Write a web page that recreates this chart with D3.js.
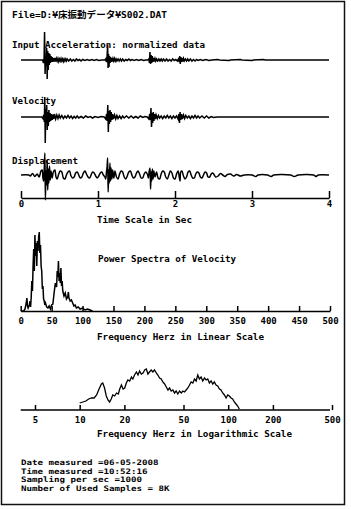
<!DOCTYPE html>
<html><head><meta charset="utf-8">
<script src="https://cdn.jsdelivr.net/npm/d3@7"></script>
<style>
html,body{margin:0;padding:0;background:#fff;}
svg{display:block;}
text{font-family:"DejaVu Sans Mono","Noto Sans CJK JP",monospace;fill:#000;font-weight:bold;}
</style></head>
<body>
<script>
// ---------- DATA ----------
const titleText = "File=D:¥床振動データ¥S002.DAT";
const waveLabels = ["Input Acceleration: normalized data", "Velocity", "Displacement"];
const timeTicks = [0, 1, 2, 3, 4];
const linFreqTicks = [0, 50, 100, 150, 200, 250, 300, 350, 400, 450, 500];
const logFreqTicks = [5, 10, 20, 50, 100, 200, 500];
const infoLines = [
  "Date measured =06-05-2008",
  "Time measured =10:52:16",
  "Sampling per sec =1000",
  "Number of Used Samples = 8K"
];

// [time (s), normalized amplitude]
const acceleration = [[0,0],[0.28,0],[0.292,-3],[0.300,2],[0.306,28],[0.313,-14],[0.319,4],[0.326,-6],[0.333,12],[0.340,-19],[0.347,9],[0.354,-10],[0.361,7],[0.368,-5],[0.375,6],[0.382,-3],[0.39,4],[0.398,-2],[0.406,3],[0.414,-2],[0.422,2],[0.43,-1.5],[0.44,2],[0.45,-1.5],[0.46,1.5],[0.47,-1],[0.48,1.5],[0.49,-1.5],[0.5,1],[0.51,-1],[0.52,1.5],[0.53,-1],[0.54,1],[0.55,-1.5],[0.56,1],[0.57,-1],[0.58,1],[0.59,-1],[0.60,1],[0.62,-1],[0.64,1],[0.66,-1],[0.68,0.5],[0.70,-1],[0.72,1],[0.74,-0.5],[0.76,0.5],[0.78,-1],[0.80,0.5],[0.83,-0.5],[0.86,0.5],[0.89,-0.5],[0.92,0.5],[0.95,-0.5],[0.98,0.5],[1.01,-0.5],[1.05,0],[1.09,0],[1.10,1],[1.11,-2],[1.118,4],[1.125,15],[1.131,-8],[1.137,6],[1.143,-7],[1.15,4],[1.157,-3],[1.164,3],[1.171,-2],[1.178,2],[1.186,-1.5],[1.195,1.5],[1.205,-1],[1.215,1.5],[1.225,-1],[1.235,1],[1.245,-1],[1.26,1],[1.275,-1],[1.29,1],[1.305,-1],[1.32,1],[1.34,-1],[1.36,0.5],[1.38,-0.5],[1.40,1],[1.42,-0.5],[1.44,0.5],[1.47,-0.5],[1.50,0.5],[1.53,-0.5],[1.56,0.5],[1.59,-0.5],[1.62,0],[1.65,0],[1.66,1],[1.668,-3],[1.675,8],[1.682,-4],[1.69,5],[1.697,-3],[1.705,4],[1.712,-2],[1.72,2],[1.73,-1.5],[1.74,1.5],[1.75,-1],[1.76,1],[1.775,-1],[1.79,1],[1.805,-1],[1.82,1],[1.835,-1],[1.85,1],[1.87,-1],[1.89,1],[1.91,-1],[1.93,0.5],[1.95,-1],[1.97,1],[1.99,-0.5],[2.01,0.5],[2.03,-1],[2.045,1],[2.055,-2],[2.062,4],[2.069,-4],[2.076,3],[2.084,-2],[2.092,2],[2.10,-1.5],[2.11,1.5],[2.12,-1],[2.135,1],[2.15,-1],[2.165,1],[2.18,-1],[2.20,1],[2.22,-1],[2.24,0.5],[2.26,-1],[2.28,0.5],[2.30,-0.5],[2.33,0.5],[2.36,-0.5],[2.40,0.5],[2.44,-0.5],[2.48,0],[2.55,0.5],[2.58,0],[2.7,-0.5],[2.72,0],[2.85,0.5],[2.87,0],[3.0,-0.5],[3.02,0],[3.15,0.5],[3.17,0],[4,0]];

const velocity = [[0,0],[0.27,0],[0.285,-1.5],[0.295,2],[0.303,-5],[0.309,20],[0.315,-26],[0.321,8],[0.327,-6],[0.334,12],[0.341,-13],[0.348,5],[0.355,-9],[0.362,7],[0.37,-5],[0.378,4],[0.386,-4],[0.395,3],[0.405,-3],[0.415,2.5],[0.425,-2],[0.435,3],[0.45,-2],[0.465,2],[0.48,-1.5],[0.495,2],[0.51,-1],[0.53,1.5],[0.55,-1.5],[0.57,1],[0.59,-1],[0.61,1.5],[0.63,-1],[0.65,1],[0.67,-1.5],[0.69,0.5],[0.71,-1],[0.73,1],[0.75,-1],[0.78,0.5],[0.81,-1],[0.84,1],[0.87,-0.5],[0.90,0.5],[0.93,-1],[0.96,0.5],[1.0,-0.5],[1.04,0.5],[1.08,0],[1.10,-2],[1.112,3],[1.12,-4],[1.127,12],[1.134,-15],[1.141,6],[1.148,-7],[1.156,7],[1.164,-5],[1.172,5],[1.18,-3],[1.19,3],[1.20,-2],[1.215,2],[1.23,-2],[1.245,1.5],[1.26,-1.5],[1.28,1],[1.30,-1.5],[1.32,1],[1.34,-1],[1.37,1],[1.40,-1],[1.43,1],[1.46,-1],[1.49,0.5],[1.52,-1],[1.55,1],[1.58,-0.5],[1.61,0.5],[1.64,0],[1.66,-2],[1.672,3],[1.68,-3],[1.688,9],[1.695,-10],[1.703,4],[1.71,-6],[1.718,5],[1.726,-4],[1.735,3],[1.745,-2],[1.755,2],[1.77,-1.5],[1.785,1.5],[1.80,-1],[1.82,1],[1.84,-1.5],[1.86,1],[1.88,-1],[1.90,1.5],[1.92,-1],[1.94,1],[1.96,-1.5],[1.98,1],[2.0,-1],[2.02,1],[2.04,-2],[2.05,3],[2.058,-6],[2.066,5],[2.075,-3],[2.085,3],[2.095,-2],[2.11,2],[2.125,-1.5],[2.14,1.5],[2.16,-1],[2.18,1],[2.20,-1.5],[2.22,1],[2.24,-1],[2.26,1.5],[2.28,-1],[2.30,1],[2.32,-1],[2.35,1],[2.38,-1],[2.41,1],[2.44,-1],[2.47,0.5],[2.50,-0.5],[2.55,0],[4,0]];

const displacement = [[0,0],[0.1,0],[0.12,-1],[0.15,1.5],[0.18,-1.5],[0.21,1],[0.235,-2],[0.26,4],[0.275,5],[0.285,-3],[0.295,-6],[0.303,8],[0.31,22],[0.317,-25],[0.324,4],[0.332,-10],[0.34,15],[0.347,-15],[0.355,6],[0.362,-8],[0.37,9],[0.38,-5],[0.39,4],[0.405,-3],[0.42,3],[0.44,5],[0.455,-2],[0.47,-4],[0.49,1],[0.51,4],[0.53,3],[0.55,-3],[0.57,-4],[0.59,0],[0.61,3],[0.63,4],[0.65,-1],[0.67,-3],[0.69,-2],[0.71,2],[0.73,3],[0.75,0],[0.77,-3],[0.79,-2],[0.81,2],[0.83,4],[0.85,1],[0.87,-2],[0.89,-3],[0.91,0],[0.93,3],[0.95,2],[0.97,-1],[0.99,-3],[1.01,-1],[1.03,2],[1.05,3],[1.07,0],[1.09,-2],[1.10,-4],[1.11,3],[1.118,8],[1.125,17],[1.132,-17],[1.14,5],[1.147,-8],[1.155,12],[1.163,-6],[1.17,7],[1.18,-4],[1.19,5],[1.205,-3],[1.22,4],[1.24,-2],[1.26,-4],[1.28,1],[1.30,4],[1.32,3],[1.34,-2],[1.36,-4],[1.38,-1],[1.40,3],[1.42,4],[1.44,0],[1.46,-3],[1.48,-2],[1.50,2],[1.52,4],[1.54,1],[1.56,-3],[1.58,-3],[1.60,1],[1.62,3],[1.64,1],[1.655,-3],[1.665,4],[1.675,7],[1.683,-14],[1.69,3],[1.698,-6],[1.706,6],[1.715,-4],[1.725,4],[1.74,-2],[1.76,3],[1.78,-3],[1.80,-4],[1.82,1],[1.84,4],[1.86,3],[1.88,-2],[1.90,-4],[1.92,0],[1.94,4],[1.96,2],[1.98,-3],[2.0,-4],[2.02,1],[2.04,4],[2.055,-2],[2.065,-6],[2.075,3],[2.09,4],[2.11,-1],[2.13,-4],[2.15,-2],[2.17,3],[2.19,4],[2.21,0],[2.23,-3],[2.25,-3],[2.27,1],[2.29,3],[2.31,2],[2.33,-2],[2.35,-3],[2.37,0],[2.39,3],[2.41,2],[2.43,-2],[2.45,-2],[2.47,1],[2.49,2],[2.51,0],[2.53,-2],[2.56,-1],[2.59,1.5],[2.62,0],[2.65,-1.5],[2.68,0.5],[2.72,1],[2.76,-1],[2.80,0.5],[2.85,-1],[2.9,0],[3.0,0],[3.05,-1.5],[3.08,0],[3.2,0],[3.25,-1.5],[3.28,0],[3.5,0],[3.55,-1.5],[3.6,0],[3.8,0],[3.83,-1.5],[3.86,0],[4,0]];

// [frequency Hz, power]
const spectrumLinear = [[0,0],[5,0],[7,2],[9,8],[10,13],[11,5],[12,3],[14,6],[15,10],[16,4],[17,14],[18,30],[19,20],[20,45],[21,62],[22,40],[23,76],[24,55],[25,68],[26,45],[27,70],[28,60],[29,74],[30,79],[31,58],[32,66],[33,45],[34,40],[35,22],[36,25],[37,12],[38,10],[39,6],[40,8],[42,4],[44,3],[46,5],[48,2],[50,6],[52,7],[54,18],[56,28],[58,24],[59,40],[60,34],[61,50],[62,30],[63,38],[64,28],[65,43],[66,25],[67,30],[68,20],[70,15],[72,18],[74,12],[76,14],[77,19],[78,13],[80,10],[82,11],[84,8],[86,5],[88,6],[90,3],[93,4],[96,2],[100,3],[104,1],[108,2],[112,1],[116,0]];

const spectrumLog = [[10.0,7],[10.5,8],[11.0,9],[11.5,11],[12.0,12],[12.5,12],[13.0,15],[13.5,21],[14.0,26],[14.3,27],[14.7,22],[15.1,14],[15.5,10],[15.9,8],[16.3,11],[16.7,15],[17.2,14],[17.7,17],[18.2,16],[18.6,21],[19.1,25],[19.6,21],[20.1,22],[20.6,27],[21.1,30],[21.7,29],[22.3,33],[22.8,31],[23.4,35],[24.1,38],[24.7,35],[25.3,39],[26.0,36],[26.7,37],[27.4,40],[28.1,41],[28.8,36],[29.5,38],[30.3,40],[31.1,38],[31.9,40],[32.8,37],[33.6,35],[34.5,32],[35.4,31],[36.3,28],[37.3,26],[38.3,23],[39.3,20],[40.3,22],[41.3,19],[42.4,20],[43.5,17],[44.6,19],[45.8,16],[47.0,19],[48.3,17],[49.5,19],[50.8,18],[52.1,20],[53.5,22],[54.9,25],[56.3,28],[57.8,27],[59.3,31],[60.8,29],[62.4,35],[64.0,31],[65.7,33],[67.4,29],[69.2,32],[71.0,30],[72.8,31],[74.7,27],[76.7,29],[78.7,26],[80.7,28],[82.8,25],[85.0,24],[87.3,21],[89.5,20],[91.8,17],[94.3,15],[96.8,12],[99.3,15],[101.8,14],[104.5,12],[107.1,11],[110.0,8],[112.9,6],[115.8,4],[118.8,1]];

// ---------- DRAW ----------
const W = 351, H = 509;
const svg = d3.select("body").append("svg").attr("width", W).attr("height", H);
svg.append("rect").attr("width", W).attr("height", H).attr("fill", "#fff");
svg.append("rect").attr("x", 1.5).attr("y", 1.5).attr("width", 343).attr("height", 503)
  .attr("fill", "none").attr("stroke", "#111").attr("stroke-width", 1.5);

function label(txt, x, y, len, size) {
  const t = svg.append("text").attr("x", x).attr("y", y).attr("font-size", size || 9.5).text(txt);
  if (len) t.attr("textLength", len).attr("lengthAdjust", "spacingAndGlyphs");
  return t;
}

label(titleText, 12, 18, 155);

const x = d3.scaleLinear().domain([0, 4]).range([21, 329]);
const waves = [
  {data: acceleration, base: 60, label: waveLabels[0], ly: 48, len: 193, curve: d3.curveLinear},
  {data: velocity, base: 117, label: waveLabels[1], ly: 104, len: 44, curve: d3.curveLinear},
  {data: displacement, base: 175, label: waveLabels[2], ly: 164, len: 66, curve: d3.curveCatmullRom.alpha(0.5)}
];
waves.forEach(w => {
  const y = d3.scaleLinear().domain([-30, 30]).range([w.base + 30, w.base - 30]);
  svg.append("path").datum(w.data)
    .attr("d", d3.line().x(d => x(d[0])).y(d => y(d[1])).curve(w.curve))
    .attr("fill", "none").attr("stroke", "#000").attr("stroke-width", 1.5)
    .attr("stroke-linejoin", "miter");
  label(w.label, 12, w.ly, w.len);
});

function styleAxis(g, labY) {
  g.select(".domain").attr("stroke", "#000").attr("stroke-width", 1.5);
  g.selectAll(".tick line").attr("stroke", "#000").attr("stroke-width", 1.5);
  g.selectAll(".tick text").attr("dy", null).attr("y", labY)
    .attr("font-family", "DejaVu Sans Mono").attr("font-size", 9).attr("font-weight", "bold").attr("fill", "#000");
}

// time axis
const gT = svg.append("g").attr("transform", "translate(0,198)")
  .call(d3.axisBottom(x).tickValues(timeTicks).tickFormat(d3.format("d")).tickSize(-7).tickSizeOuter(0));
styleAxis(gT, 9);
label("Time Scale in Sec", 97, 223, 95);

// linear spectrum
const xf = d3.scaleLinear().domain([0, 500]).range([20.7, 330]);
const yf = d3.scaleLinear().domain([0, 80]).range([311, 231]);
svg.append("path").datum(spectrumLinear)
  .attr("d", d3.line().x(d => xf(d[0])).y(d => yf(d[1])))
  .attr("fill", "none").attr("stroke", "#000").attr("stroke-width", 1.5);
const gL = svg.append("g").attr("transform", "translate(0,311)")
  .call(d3.axisBottom(xf).tickValues(linFreqTicks).tickFormat(d3.format("d")).tickSize(-5).tickSizeOuter(0));
styleAxis(gL, 13);
label("Power Spectra of Velocity", 98, 262, 138);
label("Frequency Herz in Linear Scale", 97, 340, 167);

// log spectrum
const xl = d3.scaleLog().domain([5, 500]).range([35, 332]);
const yl = d3.scaleLinear().domain([0, 40]).range([410, 370]);
svg.append("line").attr("x1", 20.7).attr("x2", 330).attr("y1", 410).attr("y2", 410)
  .attr("stroke", "#000").attr("stroke-width", 1.5);
svg.append("path").datum(spectrumLog)
  .attr("d", d3.line().x(d => xl(d[0])).y(d => yl(d[1])))
  .attr("fill", "none").attr("stroke", "#000").attr("stroke-width", 1.3);
const gG = svg.append("g").attr("transform", "translate(0,410)")
  .call(d3.axisBottom(xl).tickValues(logFreqTicks).tickFormat(d3.format("d")).tickSize(-5).tickSizeOuter(0));
gG.select(".domain").remove();
styleAxis(gG, 13);
label("Frequency Herz in Logarithmic Scale", 97, 437, 195);

// info block
infoLines.forEach((s, i) => {
  label(s, 21, 465 + i * 8.6, s.length * 5.5, 7.5);
});
</script>
</body></html>
